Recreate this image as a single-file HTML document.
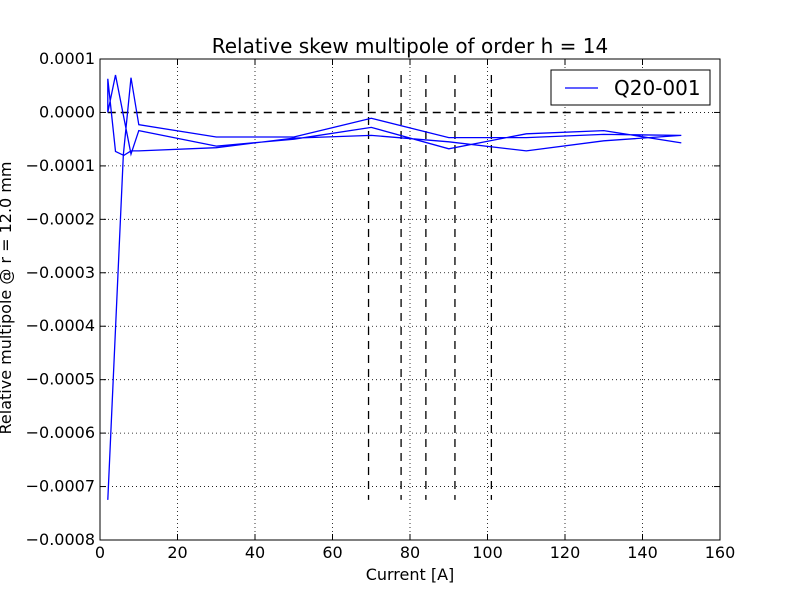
<!DOCTYPE html>
<html><head><meta charset="utf-8"><style>
body{margin:0;background:#fff;}
svg{display:block;font-family:"DejaVu Sans","Liberation Sans",sans-serif;}
</style></head><body>
<svg id="chart" width="800" height="600"></svg>
<script>
const xTicks=[0,20,40,60,80,100,120,140,160];
const yTicks=[0.0001,0,-0.0001,-0.0002,-0.0003,-0.0004,-0.0005,-0.0006,-0.0007,-0.0008];
const yTickLabels=["0.0001","0.0000","\u22120.0001","\u22120.0002","\u22120.0003","\u22120.0004","\u22120.0005","\u22120.0006","\u22120.0007","\u22120.0008"];
const currents=[2,6,8,10,30,50,70,90,110,130,150, 130,110,90,70,50,30,10,8,6,4,2, 2,4,8,10,30,50,70,90,110,130,150];
const values=[-0.000725,-0.000081,-0.000072,-0.000072,-0.000066,-0.000048,-0.000043,-0.000055,-0.000072,-0.000053,-0.000043,
 -0.000041,-0.000047,-0.000047,-0.000011,-0.000046,-0.000046,-0.000023,0.000065,-0.00008,-0.000073,0.000063,
 0,0.00007,-0.000078,-0.000034,-0.000063,-0.00005,-0.000028,-0.000068,-0.00004,-0.000034,-0.000057];
const markerCurrents=[69.3,77.7,84.1,91.6,101];
const X0=100,X1=720,Y0=59,Y1=540;
const xs=v=>X0+(v-0)/(160-0)*(X1-X0);
const ys=v=>Y0+(0.0001-v)/(0.0009)*(Y1-Y0);
const svg=document.getElementById('chart');
const NS='http://www.w3.org/2000/svg';
function mk(tag,attrs,parent){const e=document.createElementNS(NS,tag);for(const k in attrs)e.setAttribute(k,attrs[k]);(parent||svg).appendChild(e);return e;}
let t=mk('text',{x:410,y:53,'font-size':20,'text-anchor':'middle'});t.textContent='Relative skew multipole of order h = 14';


xTicks.forEach(v=>{if(v>0&&v<160){const l=mk('line',{x1:xs(v),x2:xs(v),y1:Y0,y2:Y1,stroke:'#000','stroke-width':0.8,'stroke-dasharray':'1,3'});

}});
yTicks.forEach(v=>{const y=ys(v);if(y>Y0+1&&y<Y1-1){const l=mk('line',{x1:X0,x2:X1,y1:y,y2:y,stroke:'#000','stroke-width':0.8,'stroke-dasharray':'1,3'});

}});
let zb=mk('line',{x1:xs(2),x2:xs(150),y1:ys(0),y2:ys(0),stroke:'#fff','stroke-width':2});


let z=mk('line',{x1:xs(2),x2:xs(150),y1:ys(0),y2:ys(0),stroke:'#000','stroke-width':1.5,'stroke-dasharray':'8,5'});


markerCurrents.forEach(c=>{const l=mk('line',{x1:xs(c),x2:xs(c),y1:ys(0.00007),y2:ys(-0.000725),stroke:'#000','stroke-width':1.3,'stroke-dasharray':'8,6'});

});
let pts=currents.map((c,i)=>xs(c).toFixed(1)+','+ys(values[i]).toFixed(1)).join(' ');
let p=mk('polyline',{points:pts,fill:'none',stroke:'#0000ff','stroke-width':1.3});


let f=mk('rect',{x:X0,y:Y0,width:X1-X0,height:Y1-Y0,fill:'none',stroke:'#000','stroke-width':1});


xTicks.forEach(v=>{const x=xs(v);mk('line',{x1:x,x2:x,y1:Y1,y2:Y1-6,stroke:'#000'});mk('line',{x1:x,x2:x,y1:Y0,y2:Y0+6,stroke:'#000'});
const tx=mk('text',{x:x,y:Y1+18,'font-size':16,'text-anchor':'middle'});tx.textContent=v;

});
yTicks.forEach((v,i)=>{const y=ys(v);mk('line',{x1:X0,x2:X0+6,y1:y,y2:y,stroke:'#000'});mk('line',{x1:X1,x2:X1-6,y1:y,y2:y,stroke:'#000'});
const tx=mk('text',{x:X0-5,y:y+5,'font-size':16,'text-anchor':'end'});tx.textContent=yTickLabels[i];

});
t=mk('text',{x:410,y:580,'font-size':16,'text-anchor':'middle'});t.textContent='Current [A]';


t=mk('text',{x:11,y:298,'font-size':16,'text-anchor':'middle',transform:'rotate(-90 11 298)'});t.textContent='Relative multipole @ r = 12.0 mm';


let g=mk('g',{});


mk('rect',{x:551,y:70,width:159,height:35,fill:'#fff',stroke:'#000'},g);
mk('line',{x1:565,x2:598,y1:88,y2:88,stroke:'#0000ff','stroke-width':1.3},g);
t=mk('text',{x:614,y:95,'font-size':20},g);t.textContent='Q20-001';


</script>
</body></html>
